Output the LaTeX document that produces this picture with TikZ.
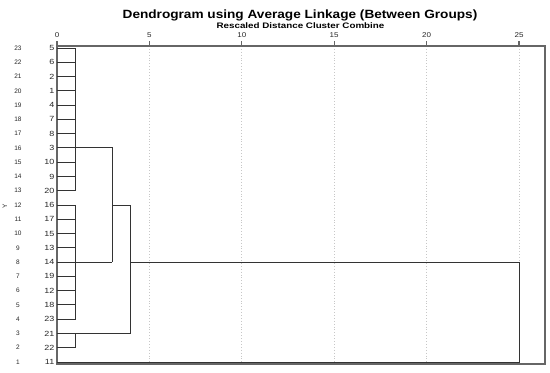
\documentclass[tikz,border=0pt]{standalone}
\usepackage{graphicx}
\usepackage{fontspec}
\setmainfont{Liberation Sans}
\begin{document}
\begin{tikzpicture}[x=1bp,y=-1bp,
  tree/.style={draw=black!80,line width=0.9bp},
  frame/.style={draw=black!60,line width=1.1bp},
  gridline/.style={draw=black!22,dotted,line width=0.9bp},
  idx/.style={font=\fontsize{6.5}{7}\selectfont,text=black!85,inner sep=0},
  case/.style={font=\fontsize{7.5}{9}\selectfont,text=black!85,anchor=east,inner sep=0},
  ticklab/.style={font=\fontsize{7}{8}\selectfont,text=black!85,inner sep=0}]
\useasboundingbox (0,0) rectangle (550,372);
\node[font=\bfseries\fontsize{12}{14}\selectfont,inner sep=0] (title) at (300,15) {\scalebox{1.14}[1]{Dendrogram using Average Linkage (Between Groups)}};
\node[font=\bfseries\fontsize{8}{9}\selectfont,inner sep=0] (sub) at (300.5,26) {\scalebox{1.23}[1]{Rescaled Distance Cluster Combine}};
% grid lines and ticks
\foreach \v in {0,5,10,15,20,25}{
  \pgfmathsetmacro\xx{57+18.48*\v}
  \node[ticklab] (t\v) at (\xx,35) {\scalebox{1.15}[1]{\v}};
  \coordinate (g\v) at (\xx,46);
  \coordinate (h\v) at (\xx,364);
  \ifnum\v>0 \draw[gridline] (g\v) -- (h\v);\fi
  \draw[frame] (g\v) -- ++(0,-5);
}
% frame
\coordinate (tl) at (57,46);
\coordinate (br) at (545,364);
\draw[frame] (tl) rectangle (br);
% rows
\foreach \c [count=\r] in {5,6,2,1,4,7,8,3,10,9,20,16,17,15,13,14,19,12,18,23,21,22,11}{
  \pgfmathsetmacro\yy{48+(\r-1)*14.27}
  \pgfmathtruncatemacro\ix{24-\r}
  \node[idx] (i\r) at (18,\yy) {\ix};
  \node[case] (c\r) at (54.5,\yy) {\scalebox{1.2}[1]{\c}};
  \coordinate (r\r) at (57,\yy);
}
\node[rotate=90,font=\fontsize{6.5}{7}\selectfont,text=black!85,inner sep=0] (ylab) at (5,206) {Y};
% merge x positions
\coordinate (xa) at (75.5,0);
\coordinate (xb) at (112.3,0);
\coordinate (xc) at (130.8,0);
\coordinate (xd) at (519,0);
% tree
\foreach \r in {1,...,22} \draw[tree] (r\r) -- (r\r -| xa);
\draw[tree] (r1 -| xa) -- (r11 -| xa);
\draw[tree] (r12 -| xa) -- (r20 -| xa);
\draw[tree] (r21 -| xa) -- (r22 -| xa);
\draw[tree] (r8 -| xa) -- (r8 -| xb) -- (r16 -| xb);
\draw[tree] (r16 -| xa) -- (r16 -| xb);
\draw[tree] (r12 -| xb) -- (r12 -| xc) -- (r21 -| xc) -- (r21 -| xa);
\draw[tree] (r16 -| xc) -- (r16 -| xd) -- (r23 -| xd) -- (r23);
\end{tikzpicture}
\end{document}
